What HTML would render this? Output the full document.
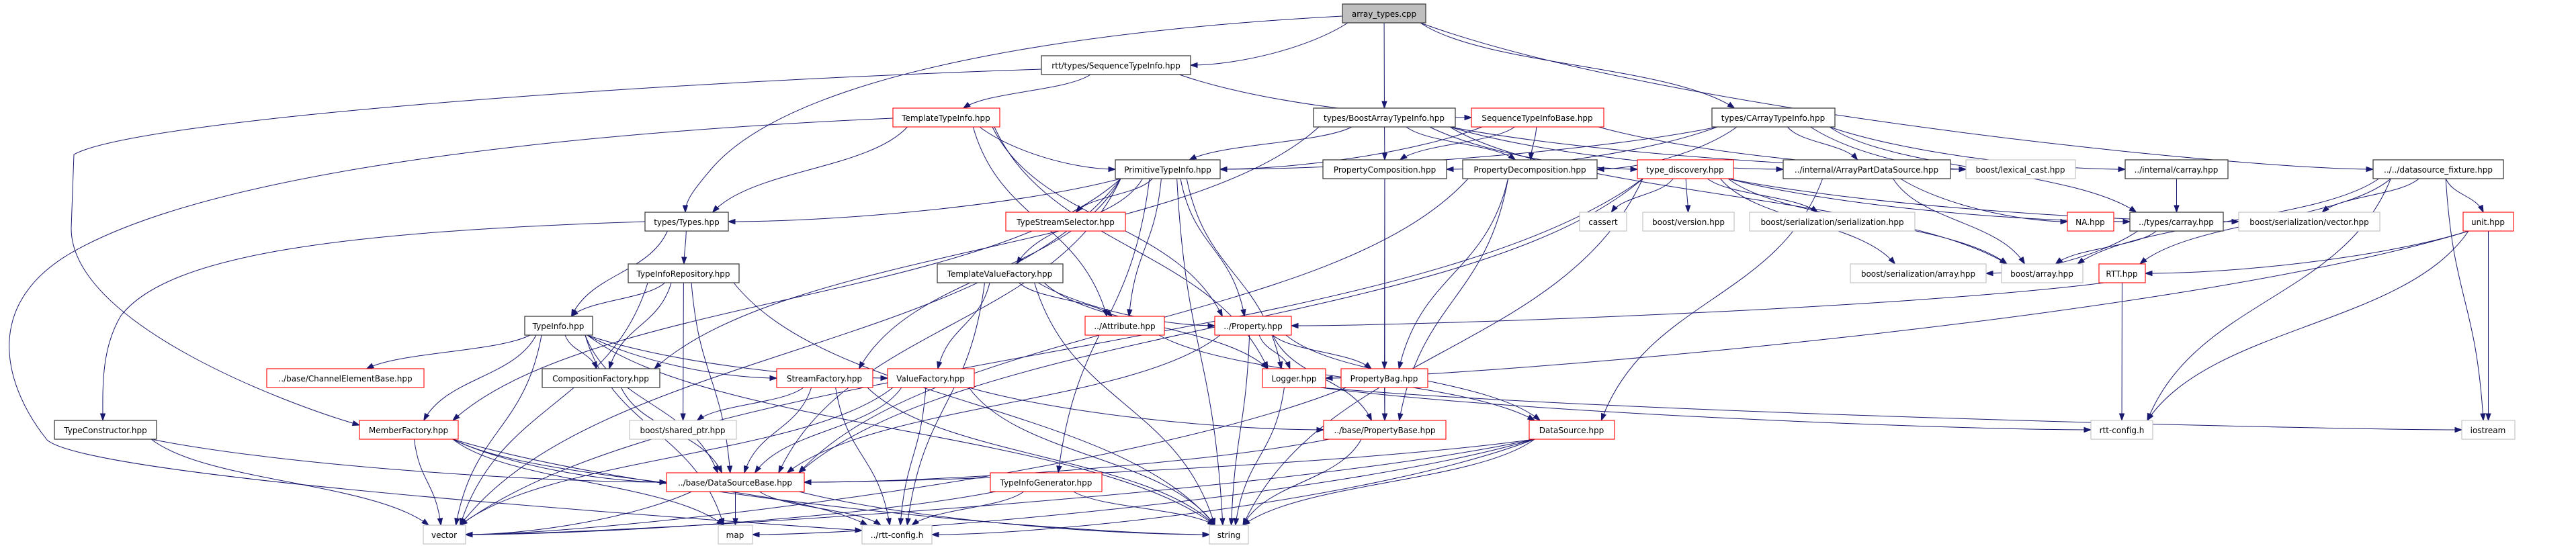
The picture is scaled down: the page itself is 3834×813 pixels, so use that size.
<!DOCTYPE html>
<html><head><meta charset="utf-8">
<style>
html,body{margin:0;padding:0;background:#fff;}
svg{display:block;}
text{font-family:"DejaVu Sans","Liberation Sans",sans-serif;font-size:12px;fill:#000;text-anchor:middle;}
.k{fill:#fff;stroke:#404040;stroke-width:1.3;}
.r{fill:#fff;stroke:#ff0000;stroke-width:1.1;}
.g{fill:#fff;stroke:#bfbfbf;stroke-width:1.1;}
.root{fill:#bfbfbf;stroke:#404040;stroke-width:1.3;}
</style></head>
<body>
<svg id="s" width="3834" height="813" viewBox="0 0 3834 813" xmlns="http://www.w3.org/2000/svg">
<g id="edges" fill="none" stroke="#191970" stroke-width="1"></g>
<g id="heads" fill="#191970" stroke="#191970"></g>
<g id="nodes">
<rect id="A" class="root" x="1998" y="6" width="124" height="28"/><text x="2060" y="25">array_types.cpp</text>
<rect id="SeqTI" class="k" x="1550" y="83" width="222" height="28"/><text x="1661" y="102">rtt/types/SequenceTypeInfo.hpp</text>
<rect id="TTI" class="r" x="1329" y="161" width="159" height="28"/><text x="1408" y="180">TemplateTypeInfo.hpp</text>
<rect id="BATI" class="k" x="1955" y="161" width="211" height="28"/><text x="2060" y="180">types/BoostArrayTypeInfo.hpp</text>
<rect id="STIB" class="r" x="2190" y="161" width="197" height="28"/><text x="2288" y="180">SequenceTypeInfoBase.hpp</text>
<rect id="CATI" class="k" x="2548" y="161" width="183" height="28"/><text x="2639" y="180">types/CArrayTypeInfo.hpp</text>
<rect id="PTI" class="k" x="1660" y="238" width="156" height="28"/><text x="1738" y="257">PrimitiveTypeInfo.hpp</text>
<rect id="PC" class="k" x="1969" y="238" width="184" height="28"/><text x="2061" y="257">PropertyComposition.hpp</text>
<rect id="PD" class="k" x="2177" y="238" width="200" height="28"/><text x="2277" y="257">PropertyDecomposition.hpp</text>
<rect id="TD" class="r" x="2437" y="238" width="143" height="28"/><text x="2508" y="257">type_discovery.hpp</text>
<rect id="APDS" class="k" x="2654" y="238" width="249" height="28"/><text x="2778" y="257">../internal/ArrayPartDataSource.hpp</text>
<rect id="LC" class="g" x="2926" y="238" width="163" height="28"/><text x="3007" y="257">boost/lexical_cast.hpp</text>
<rect id="IC" class="k" x="3163" y="238" width="153" height="28"/><text x="3239" y="257">../internal/carray.hpp</text>
<rect id="DSF" class="k" x="3532" y="238" width="194" height="28"/><text x="3629" y="257">../../datasource_fixture.hpp</text>
<rect id="T" class="k" x="960" y="316" width="124" height="28"/><text x="1022" y="335">types/Types.hpp</text>
<rect id="TSS" class="r" x="1497" y="316" width="178" height="28"/><text x="1586" y="335">TypeStreamSelector.hpp</text>
<rect id="CAS" class="g" x="2351" y="316" width="70" height="28"/><text x="2386" y="335">cassert</text>
<rect id="BV" class="g" x="2445" y="316" width="136" height="28"/><text x="2513" y="335">boost/version.hpp</text>
<rect id="BSS" class="g" x="2604" y="316" width="246" height="28"/><text x="2727" y="335">boost/serialization/serialization.hpp</text>
<rect id="NA" class="r" x="3077" y="316" width="69" height="28"/><text x="3111" y="335">NA.hpp</text>
<rect id="TC" class="k" x="3170" y="316" width="139" height="28"/><text x="3239" y="335">../types/carray.hpp</text>
<rect id="BSV" class="g" x="3332" y="316" width="210" height="28"/><text x="3437" y="335">boost/serialization/vector.hpp</text>
<rect id="U" class="r" x="3666" y="316" width="75" height="28"/><text x="3703" y="335">unit.hpp</text>
<rect id="TIR" class="k" x="935" y="393" width="165" height="28"/><text x="1017" y="412">TypeInfoRepository.hpp</text>
<rect id="TVF" class="k" x="1395" y="393" width="187" height="28"/><text x="1488" y="412">TemplateValueFactory.hpp</text>
<rect id="BSA" class="g" x="2754" y="393" width="202" height="28"/><text x="2855" y="412">boost/serialization/array.hpp</text>
<rect id="BA" class="g" x="2979" y="393" width="121" height="28"/><text x="3039" y="412">boost/array.hpp</text>
<rect id="RTT" class="r" x="3124" y="393" width="69" height="28"/><text x="3158" y="412">RTT.hpp</text>
<rect id="TI" class="k" x="781" y="471" width="101" height="28"/><text x="831" y="490">TypeInfo.hpp</text>
<rect id="AT" class="r" x="1615" y="471" width="118" height="28"/><text x="1674" y="490">../Attribute.hpp</text>
<rect id="PR" class="r" x="1808" y="471" width="114" height="28"/><text x="1865" y="490">../Property.hpp</text>
<rect id="CEB" class="r" x="397" y="549" width="234" height="28"/><text x="514" y="568">../base/ChannelElementBase.hpp</text>
<rect id="CF" class="k" x="807" y="549" width="175" height="28"/><text x="894" y="568">CompositionFactory.hpp</text>
<rect id="SF" class="r" x="1156" y="549" width="143" height="28"/><text x="1227" y="568">StreamFactory.hpp</text>
<rect id="VF" class="r" x="1321" y="549" width="129" height="28"/><text x="1385" y="568">ValueFactory.hpp</text>
<rect id="LG" class="r" x="1879" y="549" width="94" height="28"/><text x="1926" y="568">Logger.hpp</text>
<rect id="PB" class="r" x="1996" y="549" width="129" height="28"/><text x="2060" y="568">PropertyBag.hpp</text>
<rect id="TCo" class="k" x="81" y="626" width="152" height="28"/><text x="157" y="645">TypeConstructor.hpp</text>
<rect id="MF" class="r" x="535" y="626" width="147" height="28"/><text x="608" y="645">MemberFactory.hpp</text>
<rect id="SP" class="g" x="937" y="626" width="159" height="28"/><text x="1016" y="645">boost/shared_ptr.hpp</text>
<rect id="PBa" class="r" x="1970" y="626" width="182" height="28"/><text x="2061" y="645">../base/PropertyBase.hpp</text>
<rect id="DS" class="r" x="2276" y="626" width="127" height="28"/><text x="2339" y="645">DataSource.hpp</text>
<rect id="RC" class="g" x="3112" y="626" width="92" height="28"/><text x="3158" y="645">rtt-config.h</text>
<rect id="IO" class="g" x="3664" y="626" width="79" height="28"/><text x="3703" y="645">iostream</text>
<rect id="DSB" class="r" x="992" y="704" width="205" height="28"/><text x="1094" y="723">../base/DataSourceBase.hpp</text>
<rect id="TIG" class="r" x="1474" y="704" width="166" height="28"/><text x="1557" y="723">TypeInfoGenerator.hpp</text>
<rect id="V" class="g" x="630" y="782" width="63" height="28"/><text x="661" y="801">vector</text>
<rect id="M" class="g" x="1069" y="782" width="51" height="28"/><text x="1094" y="801">map</text>
<rect id="RC2" class="g" x="1283" y="782" width="104" height="28"/><text x="1335" y="801">../rtt-config.h</text>
<rect id="S" class="g" x="1800" y="782" width="58" height="28"/><text x="1829" y="801">string</text>
</g>
</svg>
<script>
(function(){
var NS="http://www.w3.org/2000/svg";
var eg=document.getElementById("edges"), hg=document.getElementById("heads");
function R(id){var r=document.getElementById(id);var x=+r.getAttribute("x"),y=+r.getAttribute("y"),w=+r.getAttribute("width"),h=+r.getAttribute("height");return {x:x,y:y,w:w,h:h,cx:x+w/2};}
function cl(v,a,b){return Math.max(a,Math.min(b,v));}
function head(px,py,ex,ey){var dx=ex-px,dy=ey-py,l=Math.sqrt(dx*dx+dy*dy)||1;dx/=l;dy/=l;var L=10,W=3.5;var bx=ex-dx*L,by=ey-dy*L;var p=document.createElementNS(NS,"polygon");p.setAttribute("points",ex+","+ey+" "+(bx-dy*W)+","+(by+dx*W)+" "+(bx+dy*W)+","+(by-dx*W));hg.appendChild(p);}
function path(d){var p=document.createElementNS(NS,"path");p.setAttribute("d",d);eg.appendChild(p);}
var E={A:"SeqTI BATI CATI DSF",SeqTI:"TTI STIB",TTI:"T PTI AT PR LG",BATI:"PTI PC PD TD APDS LC CF BA",STIB:"PC PD LC PTI",CATI:"PTI PC PD APDS LC IC TC",PTI:"T TSS TVF AT PR LG TIG SF MF DSB S V",T:"TIR TI",TIR:"TI SP V S DSB CF",TI:"CF SF VF CEB MF DSB V S M",CF:"DSB",SF:"SP DSB RC2 S",VF:"DSB PBa V RC2 S",TVF:"VF AT PR LG RC2 S",AT:"DS",PR:"LG PB PBa DSB S DS",LG:"S IO RC",PB:"PBa V",PBa:"DSB S",PC:"PB PBa",PD:"PB PBa DSB",TD:"CAS BV BSS BSA BA V S DSB TC BSV",APDS:"DS NA BA",IC:"TC",TC:"BSA BA",DSF:"BSV U RTT BA RC IO",U:"IO RTT LG RC",RTT:"RC PR",DS:"DSB S M RC2 V",DSB:"M RC2 V S",TIG:"S RC2 V",MF:"V DSB S RC2 M",TCo:"V DSB"};
for(var a in E){var ts=E[a].split(" ");for(var i=0;i<ts.length;i++){var s=R(a),t=R(ts[i]);
var sx=s.cx+cl((t.cx-s.cx)*0.15,-s.w/2+8,s.w/2-8),sy=s.y+s.h;
var ex=t.cx+cl((s.cx-t.cx)*0.1,-t.w/2+8,t.w/2-8),ey=t.y;var dy=ey-sy;
var c1x,c1y,c2x,c2y;
if(Math.abs(ex-sx)>5*dy){ex=(sx<t.cx)?t.x:t.x+t.w;ey=t.y+t.h/2;dy=ey-sy;var sg=(ex>sx)?1:-1;c1x=sx+(ex-sx)*0.25;c1y=sy+dy*0.6;c2x=ex-sg*Math.min(Math.abs(ex-sx)*0.3,200);c2y=ey;}
else{c1x=sx+(ex-sx)*0.2;c1y=sy+dy*0.5;c2x=ex-(ex-sx)*0.2;c2y=ey-dy*0.5;}
path("M"+sx+","+sy+" C"+c1x+","+c1y+" "+c2x+","+c2y+" "+ex+","+ey);head(c2x,c2y,ex,ey);}}
path("M1998,24 C1700,40 1200,90 1060,250 C1030,285 1020,300 1020,316");head(1020,300,1020,316);
path("M1550,103 C900,125 200,180 110,230 L106,340 C106,480 420,600 535,633");head(420,600,535,633);
path("M1329,176 C800,200 300,260 100,380 C-30,460 10,580 70,655 C120,700 700,750 1283,790");head(700,750,1283,790);
path("M960,330 C500,345 250,380 180,470 C150,520 153,580 153,626");head(153,580,153,626);
})();
</script>
</body></html>
